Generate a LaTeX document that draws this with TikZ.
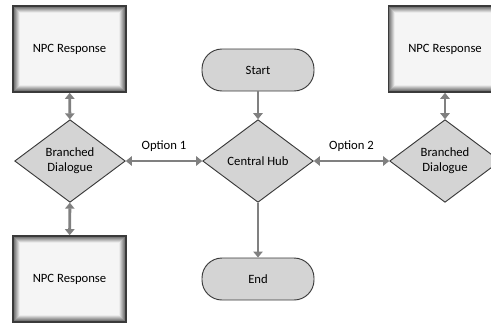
\documentclass[tikz,border=0pt]{standalone}
\usepackage{fontspec}
\setmainfont{Carlito}
\usetikzlibrary{arrows.meta, positioning, shapes.geometric}
\definecolor{boxgray}{HTML}{D4D4D4}
\definecolor{linegray}{HTML}{808080}
\definecolor{edgegray}{HTML}{3A3A3A}

\tikzset{
  npcbox/.style={rectangle, draw=edgegray, line width=1.2pt, fill=white!96!black,
    minimum width=84.75pt, minimum height=64.5pt,
    path picture={
      \foreach \i [evaluate=\i as \c using int(62-9*\i)] in {1,...,6}
        \draw[black!\c, line width=0.8pt]
          ([shift={(\i*0.8pt,\i*0.8pt)}]path picture bounding box.south west) rectangle
          ([shift={(-\i*0.8pt,-\i*0.8pt)}]path picture bounding box.north east);
    }},
  choice/.style={diamond, draw=edgegray, fill=boxgray, line width=0.7pt,
    minimum width=83pt, minimum height=62pt, inner sep=0pt, align=center},
  terminal/.style={rectangle, rounded corners=15pt, draw=edgegray, fill=boxgray,
    line width=0.7pt, minimum width=84pt, minimum height=31.5pt},
  link/.style={draw=linegray, line width=2.2pt, -{Triangle[width=7pt,length=4.5pt]}},
  twoway/.style={link, {Triangle[width=7pt,length=4.5pt]}-{Triangle[width=7pt,length=4.5pt]}}
}

\begin{document}
\begin{tikzpicture}[x=0.75pt, y=-0.75pt, font=\fontsize{9.5}{11}\selectfont]
  \useasboundingbox (0,0) rectangle (491,322);

  \node[npcbox] (npcTL) at (69.5,49) {NPC Response};
  \node[npcbox] (npcBL) at (69.5,279) {NPC Response};
  \node[npcbox] (npcTR) at (445,49) {NPC Response};

  \node[terminal] (start) at (258,70) {Start};
  \node[choice] (hub) at (258,161) {Central Hub};
  \node[terminal] (end) at (258,279) {End};

  \node[choice] (dlgL) at (70,161) {Branched\\Dialogue};
  \node[choice] (dlgR) at (445,161) {Branched\\Dialogue};

  \draw[link] (start) -- (hub);
  \draw[link] (hub) -- (end);
  \draw[twoway] (npcTL) -- (dlgL);
  \draw[twoway] (dlgL) -- (npcBL);
  \draw[twoway] (npcTR) -- (dlgR);
  \draw[twoway] (dlgL) -- node[above=3pt] {Option 1} (hub);
  \draw[twoway] (hub) -- node[above=3pt] {Option 2} (dlgR);
\end{tikzpicture}
\end{document}
